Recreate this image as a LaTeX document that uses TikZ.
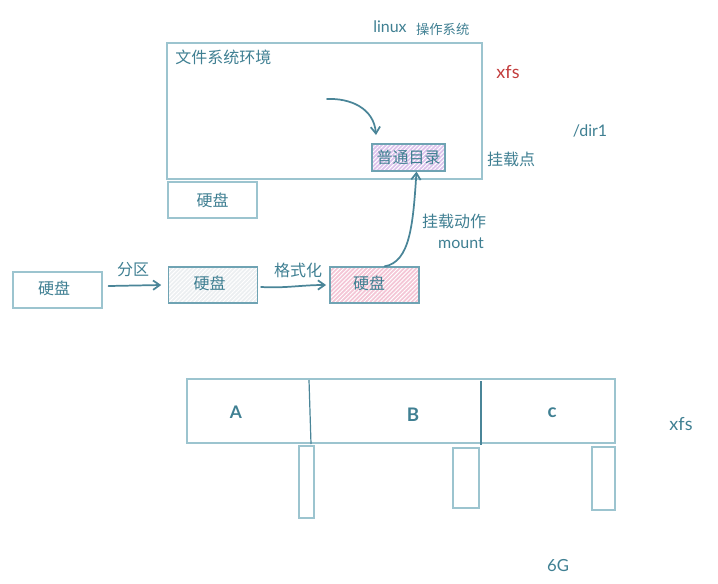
\documentclass[tikz,border=0pt]{standalone}
\usepackage{fontspec}
\setmainfont{Noto Sans CJK SC}
\newfontfamily\latinhand{Lato}
\usetikzlibrary{patterns.meta,arrows.meta}
\definecolor{inkt}{HTML}{3F7F92}
\definecolor{edge}{HTML}{9CC4CF}
\definecolor{edgedk}{HTML}{6FA3B3}
\definecolor{arrowc}{HTML}{4A8598}
\definecolor{redink}{HTML}{C23B3B}
\definecolor{greyfill}{HTML}{ECEFF1}
\definecolor{pinkfill}{HTML}{F4C6D6}
\definecolor{lilacfill}{HTML}{DCC3EC}
\tikzset{
  x=0.75pt,y=-0.75pt,
  box/.style={draw=edge,line width=0.9pt,rectangle,inner sep=0pt,text=inkt,font=\fontsize{12}{14}\selectfont},
  hatchbox/.style={box,draw=edgedk,
    preaction={fill=#1},
    preaction={pattern={Lines[angle=45,distance=2.2pt,line width=0.7pt]},pattern color=white}},
  greybox/.style={hatchbox=greyfill},
  pinkbox/.style={hatchbox=pinkfill},
  lilacbox/.style={hatchbox=lilacfill},
  txt/.style={inner sep=0pt,text=inkt,font=\fontsize{12}{14}\selectfont},
  ltxt/.style={inner sep=0pt,text=inkt,font=\latinhand\fontsize{12}{14}\selectfont},
  xfstxt/.style={inner sep=0pt,text=inkt,font=\latinhand\fontsize{13.5}{16}\selectfont},
  conn/.style={draw=arrowc,line width=1.3pt,line cap=round,-{Straight Barb[length=5pt,width=7pt,line width=1.3pt]}},
  divider/.style={draw=arrowc,line width=0.9pt},
}
\begin{document}
\begin{tikzpicture}
\useasboundingbox (0,0) rectangle (718,583);
% file system box
\node[box,minimum width=236.25pt,minimum height=102pt] (fs) at (324.5,111) {};
\node[txt,anchor=west] (fstitle) at (175,57) {文件系统环境};
\node[ltxt,anchor=west] (linux) at (373,28) {linux\hspace{7pt}\rmfamily\fontsize{10}{12}\selectfont\raisebox{-1pt}{操作系统}};
\node[lilacbox,minimum width=54.75pt,minimum height=20.25pt] (dir) at (408.5,157.5) {普通目录};
\node[box,minimum width=66.75pt,minimum height=27pt] (d0) at (212.5,200) {硬盘};
\node[txt] (mp) at (511,159) {挂载点};
\node[xfstxt,text=redink] (xfsa) at (508,72) {xfs};
\node[ltxt] (dir1) at (590,131) {/dir1};
\node[txt] (mact) at (454,221) {挂载动作};
\node[ltxt] (mount) at (461,243) {mount};
% disk row
\node[box,minimum width=66.75pt,minimum height=27pt] (d1) at (57.5,290) {\raisebox{3pt}{硬盘}\kern5pt};
\node[greybox,minimum width=66.75pt,minimum height=27pt] (d2) at (213,285) {\raisebox{3pt}{硬盘}\kern5pt};
\node[pinkbox,minimum width=66.75pt,minimum height=27pt] (d3) at (374.5,285) {\raisebox{3pt}{硬盘}\kern8pt};
\node[txt] (fq) at (133,270) {分区};
\node[txt] (gsh) at (298,270) {格式化};
\draw[conn] (d1.east)++(6,-4) -- ([xshift=-5pt]d2.west);
\draw[conn] (d2.east)++(3,2) to[out=-3,in=180] ([xshift=-2.5pt]d3.west);
\draw[conn] (d3.north)++(10,0) .. controls (410,262) and (413,225) .. ([xshift=6pt]dir.south);
\coordinate (curvestart) at (327,99);
\coordinate (curveend) at (376,135);
\draw[conn] (curvestart) .. controls (350,98) and (374,108) .. (curveend);
% partition bar
\node[box,minimum width=321pt,minimum height=48pt] (bar) at (401,411) {};
\coordinate (t1) at (309,380);
\coordinate (b1) at (311,444);
\coordinate (t2) at (481,381);
\coordinate (b2) at (481,445);
\draw[divider] (t1) -- (b1);
\draw[divider] (t2) -- (b2);
\node[ltxt,font=\latinhand\bfseries\fontsize{13}{15}\selectfont] (la) at (236,412) {A};
\node[ltxt,font=\latinhand\bfseries\fontsize{14}{16}\selectfont] (lb) at (413,415) {B};
\node[ltxt,font=\latinhand\bfseries\fontsize{14}{16}\selectfont] (lc) at (552,413) {c};
\node[xfstxt] (xfsb) at (681,424) {xfs};
\node[box,minimum width=11.25pt,minimum height=54pt] (p1) at (306.5,482) {};
\node[box,minimum width=19.5pt,minimum height=45pt] (p2) at (466,478) {};
\node[box,minimum width=17.25pt,minimum height=47.25pt] (p3) at (603.5,478.5) {};
\node[ltxt,font=\latinhand\fontsize{12.5}{15}\selectfont] (six) at (558,566) {6G};
\end{tikzpicture}
\end{document}
